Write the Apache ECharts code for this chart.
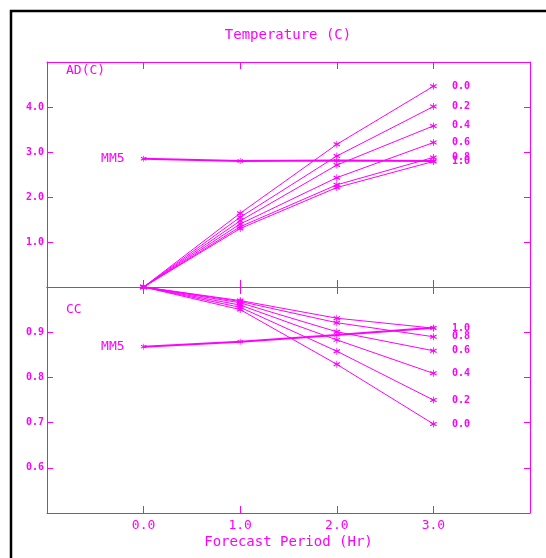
<!DOCTYPE html>
<html>
<head>
<meta charset="utf-8">
<script src="https://cdn.jsdelivr.net/npm/echarts@6/dist/echarts.min.js"></script>
<style>
  html, body { margin: 0; padding: 0; background: #fff; }
  #chart { width: 546px; height: 558px; }
</style>
</head>
<body>
<div id="chart"></div>
<script>
// forecast hours and weight labels
const hours = [0, 1, 2, 3];
const weights = ['0.0', '0.2', '0.4', '0.6', '0.8', '1.0'];

// AD(C) panel, one row per weight
const adValues = [
  [0, 1.64, 3.17, 4.46],
  [0, 1.55, 2.91, 4.01],
  [0, 1.47, 2.71, 3.58],
  [0, 1.40, 2.43, 3.21],
  [0, 1.34, 2.27, 2.88],
  [0, 1.30, 2.21, 2.79],
];
const adMM5 = [2.85, 2.80, 2.81, 2.80];

// CC panel, one row per weight
const ccValues = [
  [1.0, 0.950, 0.829, 0.697],
  [1.0, 0.955, 0.858, 0.750],
  [1.0, 0.960, 0.883, 0.809],
  [1.0, 0.965, 0.901, 0.859],
  [1.0, 0.968, 0.921, 0.890],
  [1.0, 0.970, 0.931, 0.909],
];
const ccMM5 = [0.868, 0.879, 0.894, 0.910];

const MAG = '#ff00ff';
const MONO = '"DejaVu Sans Mono", "Liberation Mono", monospace';
const STAR = 'path://M4.5,0L5.5,0L5.5,10L4.5,10Z' +
  'M0.6,3.2L1.4,1.8L9.4,6.8L8.6,8.2Z' +
  'M0.6,6.8L8.6,1.8L9.4,3.2L1.4,8.2Z';

const chart = echarts.init(document.getElementById('chart'));

function xAxisDef(gridIndex, position, extra) {
  return Object.assign({
    type: 'value',
    gridIndex,
    position,
    min: -1,
    max: 4,
    interval: 1,
    axisLine: { onZero: false, lineStyle: { color: MAG, width: 1 } },
    axisTick: { inside: true, length: 7, lineStyle: { color: MAG } },
    axisLabel: { show: false },
    splitLine: { show: false },
  }, extra || {});
}

function yAxisDef(gridIndex, position, min, max, interval, labels) {
  return {
    type: 'value',
    gridIndex,
    position,
    min,
    max,
    interval,
    axisLine: { show: true, onZero: false, lineStyle: { color: MAG, width: 1 } },
    axisTick: { show: true, inside: true, length: 6, lineStyle: { color: MAG } },
    axisLabel: labels ? {
      color: MAG,
      fontFamily: MONO,
      fontSize: 10,
      fontWeight: 'bold',
      margin: 3,
      formatter: (v) => (v > min + interval / 2 && v < max - interval / 2) ? v.toFixed(1) : '',
    } : { show: false },
    splitLine: { show: false },
  };
}

function weightSeries(rows, xIdx, yIdx) {
  return rows.map((row, i) => ({
    name: weights[i],
    type: 'line',
    xAxisIndex: xIdx,
    yAxisIndex: yIdx,
    symbol: STAR,
    symbolSize: 7,
    clip: false,
    lineStyle: { color: MAG, width: 1 },
    itemStyle: { color: MAG },
    data: hours.map((h, j) => {
      const item = { value: [h, row[j]] };
      if (j === hours.length - 1) {
        item.label = {
          show: true,
          position: 'right',
          distance: 15,
          formatter: weights[i],
          color: MAG,
          fontFamily: MONO,
          fontSize: 10,
          fontWeight: 'bold',
        };
      }
      return item;
    }),
  }));
}

function mm5Series(vals, xIdx, yIdx) {
  return {
    name: 'MM5',
    type: 'line',
    xAxisIndex: xIdx,
    yAxisIndex: yIdx,
    symbol: STAR,
    symbolSize: 6,
    clip: false,
    lineStyle: { color: MAG, width: 2 },
    itemStyle: { color: MAG },
    data: hours.map((h, j) => {
      const item = { value: [h, vals[j]] };
      if (j === 0) {
        item.label = {
          show: true,
          position: 'left',
          distance: 16,
          formatter: 'MM5',
          color: MAG,
          fontFamily: MONO,
          fontSize: 13,
        };
      }
      return item;
    }),
  };
}

const option = {
  backgroundColor: '#fff',
  animation: false,
  grid: [
    { left: 47, right: 16, top: 62, height: 225 },
    { left: 47, right: 16, top: 287, height: 226 },
  ],
  xAxis: [
    xAxisDef(0, 'bottom'),
    xAxisDef(0, 'top'),
    xAxisDef(1, 'top'),
    xAxisDef(1, 'bottom', {
      axisLabel: {
        show: true,
        color: MAG,
        fontFamily: MONO,
        fontSize: 13,
        margin: 6,
        formatter: (v) => (v >= 0 && v <= 3) ? v.toFixed(1) : '',
      },
      name: 'Forecast Period (Hr)',
      nameLocation: 'middle',
      nameGap: 22,
      nameTextStyle: { color: MAG, fontFamily: MONO, fontSize: 14 },
    }),
  ],
  yAxis: [
    yAxisDef(0, 'left', 0, 5, 1, true),
    yAxisDef(0, 'right', 0, 5, 1, false),
    yAxisDef(1, 'left', 0.5, 1.0, 0.1, true),
    yAxisDef(1, 'right', 0.5, 1.0, 0.1, false),
  ],
  graphic: [
    {
      type: 'polyline',
      shape: { points: [[11, 570], [11, 11], [560, 11]] },
      style: { stroke: '#000', lineWidth: 2.5, fill: null },
    },
    {
      type: 'text',
      x: 288, y: 35,
      style: {
        text: 'Temperature (C)', fill: MAG, font: '14px ' + MONO,
        textAlign: 'center', textVerticalAlign: 'middle',
      },
    },
    {
      type: 'text',
      x: 66, y: 71,
      style: {
        text: 'AD(C)', fill: MAG, font: '13px ' + MONO,
        textAlign: 'left', textVerticalAlign: 'middle',
      },
    },
    {
      type: 'text',
      x: 66, y: 310,
      style: {
        text: 'CC', fill: MAG, font: '13px ' + MONO,
        textAlign: 'left', textVerticalAlign: 'middle',
      },
    },
  ],
  series: [
    ...weightSeries(adValues, 0, 0),
    mm5Series(adMM5, 0, 0),
    ...weightSeries(ccValues, 3, 2),
    mm5Series(ccMM5, 3, 2),
  ],
};

chart.setOption(option);
</script>
</body>
</html>
